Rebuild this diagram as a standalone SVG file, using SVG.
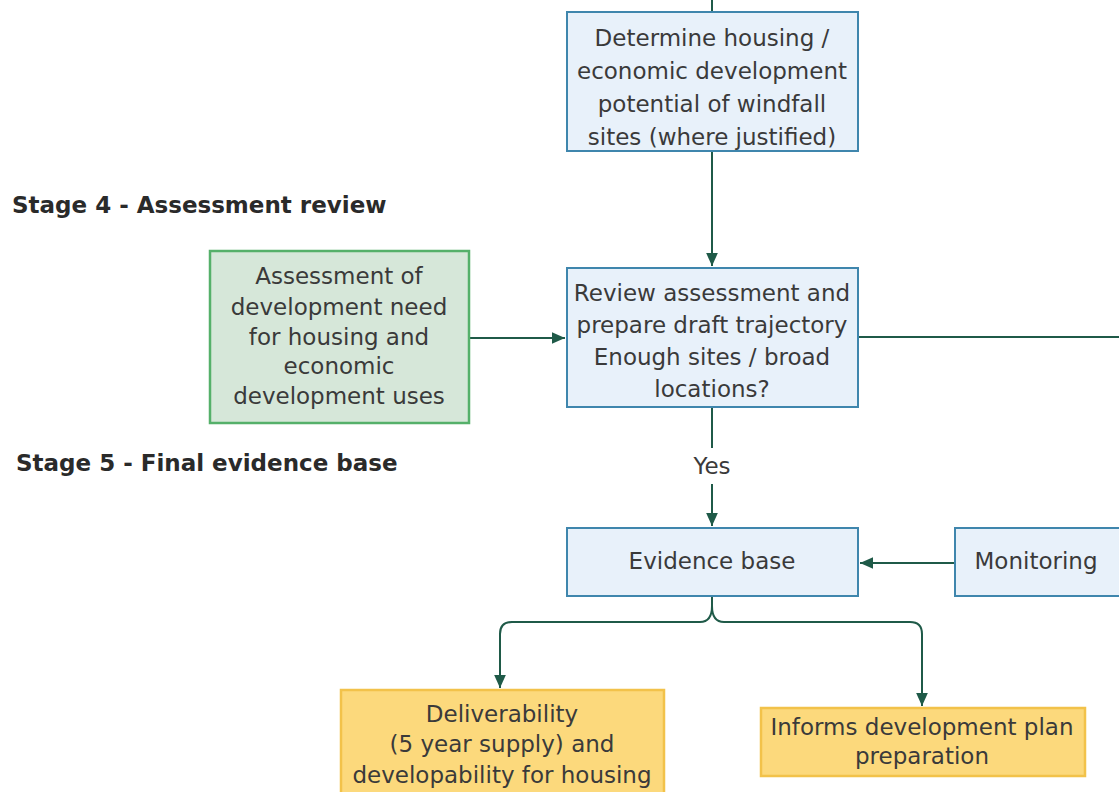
<svg xmlns="http://www.w3.org/2000/svg" width="1119" height="792" viewBox="0 0 1119 792">
<defs>
<style>
.box{fill:#e8f1fa;stroke:#3f86ad;stroke-width:2}
.green{fill:#d6e7d9;stroke:#55b06a;stroke-width:2.5}
.yellow{fill:#fcd97c;stroke:#f2c24a;stroke-width:2.5}
.t{font-family:"DejaVu Sans",Verdana,sans-serif;font-size:23px;fill:#3a3a3a;text-anchor:middle}
.h{font-family:"DejaVu Sans",Verdana,sans-serif;font-size:23px;font-weight:bold;fill:#2a2a2a}
.c{fill:none;stroke:#1f5a48;stroke-width:2}
</style>
<marker id="ah" viewBox="0 0 10 10" refX="10" refY="5" markerWidth="13" markerHeight="13" markerUnits="userSpaceOnUse" orient="auto">
<path d="M0,0.5 L10,5 L0,9.5 z" fill="#1f5a48"/>
</marker>
</defs>
<rect width="1119" height="792" fill="#ffffff"/>
<text class="h" x="12" y="213">Stage 4 - Assessment review</text>
<text class="h" x="16" y="471">Stage 5 - Final evidence base</text>
<g id="connectors">
<line class="c" x1="712" y1="0" x2="712" y2="12"/>
<path class="c" d="M712,151 V266" marker-end="url(#ah)"/>
<path class="c" d="M469,338 H565" marker-end="url(#ah)"/>
<path class="c" d="M858,337 H1119"/>
<path class="c" d="M712,407 V448"/>
<path class="c" d="M712,484 V526" marker-end="url(#ah)"/>
<text class="t" x="712" y="474">Yes</text>
<path class="c" d="M955,563 H860" marker-end="url(#ah)"/>
<path class="c" d="M712,596 V606 Q712,622 700,622 H512 Q500,622 500,634 V688" marker-end="url(#ah)"/>
<path class="c" d="M712,606 Q712,622 724,622 H910 Q922,622 922,634 V706" marker-end="url(#ah)"/>
</g>
<g id="n1">
<rect class="box" x="567" y="12" width="291" height="139"/>
<text class="t" x="712" y="46">Determine housing /</text>
<text class="t" x="712" y="79">economic development</text>
<text class="t" x="712" y="112">potential of windfall</text>
<text class="t" x="712" y="145">sites (where justified)</text>
</g>
<g id="n2">
<rect class="green" x="210" y="251" width="259" height="172"/>
<text class="t" x="339" y="284">Assessment of</text>
<text class="t" x="339" y="315">development need</text>
<text class="t" x="339" y="345">for housing and</text>
<text class="t" x="339" y="374">economic</text>
<text class="t" x="339" y="404">development uses</text>
</g>
<g id="n3">
<rect class="box" x="567" y="268" width="291" height="139"/>
<text class="t" x="712" y="301">Review assessment and</text>
<text class="t" x="712" y="333">prepare draft trajectory</text>
<text class="t" x="712" y="365">Enough sites / broad</text>
<text class="t" x="712" y="397">locations?</text>
</g>
<g id="n4">
<rect class="box" x="567" y="528" width="291" height="68"/>
<text class="t" x="712" y="569">Evidence base</text>
</g>
<g id="n5">
<rect class="box" x="955" y="528" width="170" height="68"/>
<text class="t" x="1036" y="569">Monitoring</text>
</g>
<g id="n6">
<rect class="yellow" x="341" y="690" width="323" height="110"/>
<text class="t" x="502" y="722">Deliverability</text>
<text class="t" x="502" y="752">(5 year supply) and</text>
<text class="t" x="502" y="783">developability for housing</text>
</g>
<g id="n7">
<rect class="yellow" x="761" y="708" width="324" height="68"/>
<text class="t" x="922" y="735">Informs development plan</text>
<text class="t" x="922" y="764">preparation</text>
</g>
</svg>
